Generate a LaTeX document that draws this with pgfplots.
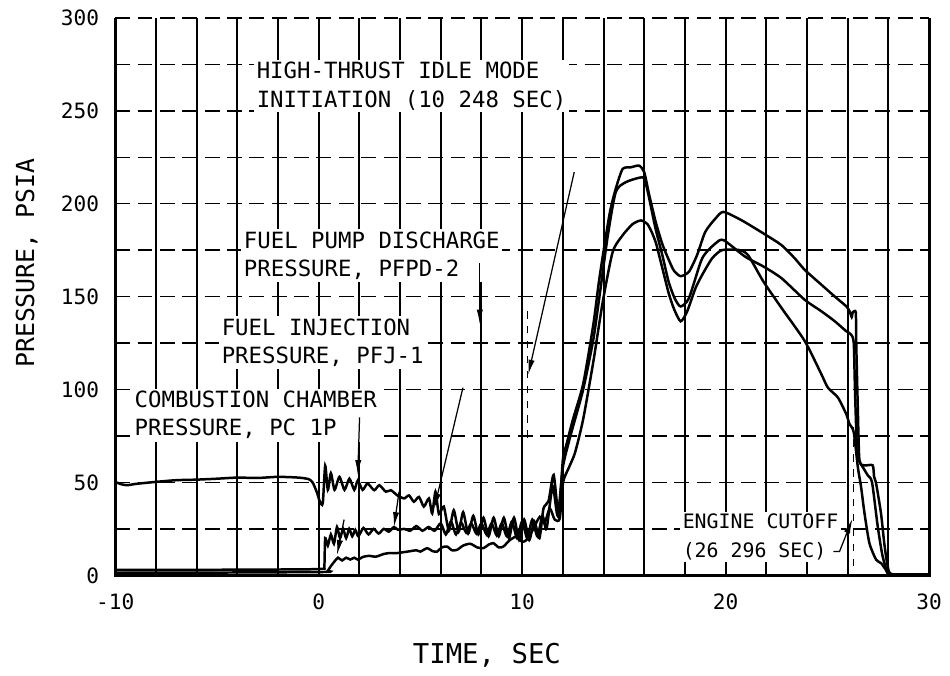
\documentclass[border=0pt]{standalone}
\usepackage{fontspec}
\setmainfont{DejaVu Sans Mono}
\usepackage{pgfplots}
\pgfplotsset{compat=1.18}
\usetikzlibrary{arrows.meta}

\begin{document}
\begin{tikzpicture}
\begin{axis}[
  width=327.6pt, height=224.4pt, scale only axis,
  xmin=-10, xmax=30, ymin=0, ymax=300,
  xtick={-10,-8,...,30},
  xticklabels={-10,,,,,0,,,,,10,,,,,20,,,,,30},
  ytick={0,25,...,300},
  yticklabels={0,,50,,100,,150,,200,,250,,300},
  major tick length=0pt,
  grid=major,
  x grid style={black, line width=0.8pt},
  y grid style={black, line width=0.6pt, dash pattern=on 6pt off 3pt},
  axis line style={draw=none},
  ticklabel style={font=\fontsize{8.5}{10}\selectfont},
  xticklabel style={yshift=-4pt},
  yticklabel style={xshift=-3pt},
  clip=false,
  trace/.style={black, line width=1pt, no marks, smooth, tension=0.4},
]

% annotations (white boxes interrupt the grid as on the original)
\begin{scope}[every node/.style={anchor=north west, align=left, fill=white, inner sep=1pt, font=\fontsize{9}{11.4}\selectfont}]
\node at (axis cs:-3.19,277.8) {HIGH-THRUST IDLE MODE\\INITIATION (10 248 SEC)};
\node at (axis cs:-3.82,186.4) {FUEL PUMP DISCHARGE\\PRESSURE, PFPD-2};
\node at (axis cs:-4.91,139.8) {FUEL INJECTION\\PRESSURE, PFJ-1};
\node at (axis cs:-9.19,100.8) {COMBUSTION CHAMBER\\PRESSURE, PC 1P};
\node[font=\fontsize{8}{11.4}\selectfont] at (axis cs:17.75,34.6) {ENGINE CUTOFF\\(26 296 SEC)};
\end{scope}

% fuel pump discharge pressure
\addplot[trace] coordinates {
(-10,50.3) (-9.7,49) (-9.4,48.5) (-9,49.2) (-8,50.3) (-7,51.2) (-6,51.5) (-5,52) (-4,52.6) (-3,52.4)
(-2,53) (-1,52.6) (-0.5,51.8) (-0.3,50) (-0.1,45) (0.05,40) (0.2,38.7) (0.32,59) (0.45,46) (0.6,55)
(0.78,46) (1.02,53) (1.27,46) (1.51,52) (1.75,46) (1.92,51) (2.16,46) (2.4,49.4) (2.73,45.8) (2.98,48.5)
(3.3,45) (3.55,45.8) (3.87,43) (4.2,41.4) (4.44,43) (4.68,39.6) (4.93,42.2) (5.17,37) (5.42,41.4) (5.58,33.3)
(5.74,45) (5.91,33) (6.15,37) (6.4,24) (6.64,35) (6.88,23.5) (7.1,34) (7.35,22.5) (7.6,32) (7.85,22)
(8.1,31) (8.35,21) (8.6,31) (8.85,21) (9.1,31) (9.35,20) (9.6,31) (9.85,19) (10.1,30) (10.35,19)
(10.6,29) (10.85,20) (11.05,36) (11.3,40) (11.55,54) (11.8,32) (12.0,62) (12.17,70) (12.5,84) (13.0,103)
(13.5,135) (13.8,160) (14.29,194) (14.6,208) (14.94,218.7) (15.35,219.6) (15.75,220.5) (16.0,217) (16.24,205) (16.57,190)
(16.9,178) (17.2,170) (17.46,164) (17.79,161) (18.2,163.4) (18.6,172.4) (19.0,184.8) (19.5,192) (19.9,195.6) (20.8,191)
(21.86,184) (22.75,177.7) (23.4,170.6) (23.89,164.4) (24.71,156.4) (25.36,150.1) (25.93,144.8) (26.1,142) (26.2,139) (26.25,141.5)
(26.4,141.5) (26.42,126) (26.5,90) (26.58,62) (26.83,59.2) (27.23,59.2) (27.3,53) (27.4,49.4) (27.64,33.3) (27.8,17.3)
(27.97,4.8) (28.21,0.5) (30,0.5)
};

% fuel injection pressure
\addplot[trace] coordinates {
(-10,3) (-5,3) (-1,3.2) (0.2,3.5) (0.28,5) (0.32,20) (0.45,16) (0.6,22) (0.75,17) (0.9,26)
(1.05,20) (1.2,25) (1.35,20) (1.5,25) (1.65,21) (1.8,24.5) (1.95,21) (2.2,25.5) (2.45,22) (2.7,25)
(2.95,22.5) (3.2,25) (3.45,23.5) (3.7,26) (3.9,24.5) (4.2,25) (4.5,24) (4.8,26.5) (5.1,24) (5.4,26)
(5.7,24) (6.0,28) (6.25,22) (6.5,29) (6.75,22) (7.0,28.5) (7.25,23) (7.5,28) (7.75,22.5) (8.0,28)
(8.25,22) (8.5,28) (8.75,21.5) (9.0,28) (9.25,21) (9.5,29) (9.75,20) (10.0,29) (10.25,20) (10.5,30)
(10.75,21) (11.0,32) (11.2,25) (11.5,48) (11.75,32) (12.0,58) (12.3,72) (12.5,80) (13.0,100) (13.5,127)
(13.8,150) (14.2,182) (14.6,206.2) (15.1,211.6) (15.92,214.2) (16.1,210) (16.3,200) (16.57,186) (16.9,172) (17.2,158)
(17.5,149) (17.79,144.7) (18.2,149.2) (18.85,170.6) (19.5,178.6) (19.9,180.4) (20.96,171.5) (21.86,166.2) (22.75,159.9) (23.89,148.3)
(24.71,142.1) (25.36,136.8) (25.93,131.4) (26.17,129.6) (26.3,125) (26.36,100) (26.45,70) (26.55,62) (26.74,58.3) (26.99,53.8)
(27.2,50) (27.48,26.2) (27.72,10.2) (27.97,1.3) (28.2,0.5) (30,0.5)
};

% combustion chamber pressure
\addplot[trace] coordinates {
(-10,1.5) (-5,1.5) (0.3,1.8) (0.45,2.5) (0.6,5) (0.78,7.5) (0.95,9.5) (1.15,8) (1.35,9.5) (1.55,8.5)
(1.75,9.5) (1.92,8.5) (2.2,10) (2.5,10.5) (2.8,10) (3.2,11.5) (3.5,12) (3.87,12) (4.2,12.5) (4.5,13)
(4.8,13.5) (5.0,12.8) (5.33,14.6) (5.6,13) (5.82,12.8) (6.05,15) (6.31,15.5) (6.55,13.5) (6.8,13.7) (7.1,16)
(7.45,17) (7.8,15) (8.1,14.6) (8.35,16.5) (8.59,17.3) (8.85,15) (9.08,15.5) (9.4,19) (9.73,20.85) (10.0,18)
(10.22,19.1) (10.5,24) (10.87,31.5) (11.1,28) (11.36,36) (11.6,30) (11.85,30.6) (12.01,50) (12.3,58) (12.6,66)
(13.0,84) (13.5,115) (13.96,147) (14.45,174) (14.94,183) (15.43,189) (15.84,191) (16.16,189) (16.4,184) (16.6,178)
(16.9,165) (17.2,152) (17.46,143.5) (17.79,136.7) (18.11,142) (18.52,154.5) (18.85,161.7) (19.34,170.6) (19.82,175) (20.64,175.1)
(21.1,172.4) (21.86,158.1) (22.75,143.9) (23.89,126.1) (24.71,108.2) (25.03,101) (25.52,95.7) (25.93,86.8) (26.09,81.5) (26.3,77)
(26.5,58.3) (26.66,47.6) (26.83,33.3) (27.07,17.3) (27.4,8.4) (27.64,6.6) (27.88,3) (28.13,0.4) (30,0.4)
};

% event markers and leader lines
\draw[black, line width=0.5pt, dash pattern=on 3pt off 3pt] (axis cs:10.248,74) -- (axis cs:10.248,145);
\draw[black, line width=0.5pt, dash pattern=on 3pt off 3pt] (axis cs:26.296,5) -- (axis cs:26.296,80);
\begin{scope}[black, line width=0.5pt, -{Latex[length=6pt,width=2.5pt]}]
\draw (axis cs:12.56,217) -- (axis cs:10.3,108);
\draw (axis cs:7.92,168) -- (axis cs:7.92,135);
\draw (axis cs:7.09,101) -- (axis cs:5.68,36);
\draw (axis cs:3.95,45) -- (axis cs:3.7,26);
\draw (axis cs:1.25,30) -- (axis cs:0.9,11);
\draw (axis cs:2.01,85) -- (axis cs:1.92,54);
\draw (axis cs:25.3,12.8) -- (axis cs:25.6,12.8) -- (axis cs:26.24,30.5);
\end{scope}

% frame
\draw[black, line width=1.2pt] (rel axis cs:0,1) -- (rel axis cs:0,0) -- (rel axis cs:1,0) -- (rel axis cs:1,1);

% axis titles
\node[rotate=90, font=\fontsize{10}{12}\selectfont] at (rel axis cs:-0.1087,0.56) {PRESSURE, PSIA};
\node[font=\fontsize{11}{13}\selectfont] at (rel axis cs:0.4567,-0.1426) {TIME, SEC};

% page extent
\path (rel axis cs:-0.1416,-0.1783) rectangle (rel axis cs:1.0183,1.0321);
\end{axis}
\end{tikzpicture}
\end{document}
